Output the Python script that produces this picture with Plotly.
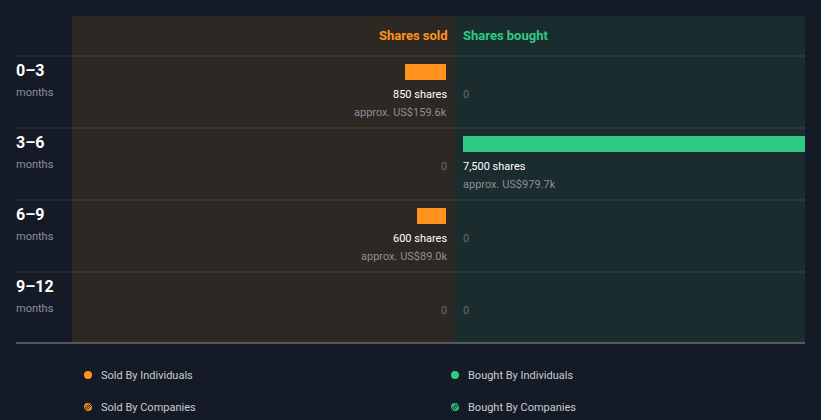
import plotly.graph_objects as go

periods = ["0–3", "3–6", "6–9", "9–12"]
period_unit = "months"
sold_shares = [850, 0, 600, 0]
sold_value = ["US$159.6k", None, "US$89.0k", None]
bought_shares = [0, 7500, 0, 0]
bought_value = [None, "US$979.7k", None, None]
legend_labels = ["Sold By Individuals", "Bought By Individuals", "Sold By Companies", "Bought By Companies"]

W, H = 821, 420
BG = "#151b26"
SOLD_BG = "#2d2823"
BOUGHT_BG = "#1a2c2e"
ORANGE = "#ff931e"
GREEN = "#2ecc82"
FONT = "Roboto"

def px(x):
    return x / W

def py(y):
    return 1 - y / H

row_h = 72.0
first_center = 72.0
y_top = -first_center / row_h
y_bot = (H - first_center) / row_h
bar_w = 16 / row_h
line1 = 22 / row_h
line2 = 40 / row_h

fig = go.Figure()
fig.add_trace(go.Bar(y=list(range(len(periods))), x=sold_shares, orientation="h",
                     marker=dict(color=ORANGE, line=dict(width=0)), width=bar_w,
                     xaxis="x", yaxis="y", hoverinfo="skip", showlegend=False))
fig.add_trace(go.Bar(y=list(range(len(periods))), x=bought_shares, orientation="h",
                     marker=dict(color=GREEN, line=dict(width=0)), width=bar_w,
                     xaxis="x2", yaxis="y", hoverinfo="skip", showlegend=False))

shares_per_px = 20.7
sold_l, sold_r = 72, 446
buy_l, buy_r = 463, 805

# text anchor corrections for annotation padding
R_TXT = 449   # right-aligned text edge target ~446-447
L_TXT = 461   # left-aligned text edge target ~463

shapes = []
shapes.append(dict(type="rect", xref="paper", yref="paper", x0=px(72), x1=px(455), y0=py(343), y1=py(16),
                   fillcolor=SOLD_BG, line=dict(width=0), layer="below"))
shapes.append(dict(type="rect", xref="paper", yref="paper", x0=px(455), x1=px(805), y0=py(343), y1=py(16),
                   fillcolor=BOUGHT_BG, line=dict(width=0), layer="below"))
for i in range(len(periods)):
    yv = i - (first_center - 56) / row_h
    shapes.append(dict(type="line", xref="paper", yref="y", x0=px(16), x1=px(805), y0=yv, y1=yv,
                       line=dict(color="rgba(255,255,255,0.12)", width=1), layer="below"))
yb = len(periods) - (first_center - 56) / row_h - 1 / row_h
shapes.append(dict(type="line", xref="paper", yref="y", x0=px(16), x1=px(805), y0=yb, y1=yb,
                   line=dict(color="#8c9098", width=1)))

ann = []
ann.append(dict(text="<b>Shares sold</b>", x=px(R_TXT + 1), y=py(35), xref="paper", yref="paper",
                xanchor="right", yanchor="middle", showarrow=False, font=dict(color=ORANGE, size=13, family=FONT)))
ann.append(dict(text="<b>Shares bought</b>", x=px(L_TXT), y=py(35), xref="paper", yref="paper",
                xanchor="left", yanchor="middle", showarrow=False, font=dict(color=GREEN, size=13, family=FONT)))

for i, p in enumerate(periods):
    ann.append(dict(text="<b>%s</b>" % p, x=px(14), y=i - 2 / row_h, xref="paper", yref="y",
                    xanchor="left", yanchor="middle", showarrow=False, font=dict(color="#ffffff", size=16, family=FONT)))
    ann.append(dict(text=period_unit, x=px(14), y=i + 20 / row_h, xref="paper", yref="y",
                    xanchor="left", yanchor="middle", showarrow=False, font=dict(color="#8b8f96", size=11, family=FONT)))
    if sold_shares[i]:
        ann.append(dict(text="%s shares" % format(sold_shares[i], ","), x=px(R_TXT), y=i + line1, xref="paper", yref="y",
                        xanchor="right", yanchor="middle", showarrow=False, font=dict(color="#ffffff", size=11, family=FONT)))
        ann.append(dict(text="approx. %s" % sold_value[i], x=px(R_TXT), y=i + line2, xref="paper", yref="y",
                        xanchor="right", yanchor="middle", showarrow=False, font=dict(color="#8b8f96", size=11, family=FONT)))
    else:
        ann.append(dict(text="0", x=px(R_TXT), y=i + line1, xref="paper", yref="y",
                        xanchor="right", yanchor="middle", showarrow=False, font=dict(color="#6b6866", size=11, family=FONT)))
    if bought_shares[i]:
        ann.append(dict(text="%s shares" % format(bought_shares[i], ","), x=px(L_TXT), y=i + line1, xref="paper", yref="y",
                        xanchor="left", yanchor="middle", showarrow=False, font=dict(color="#ffffff", size=11, family=FONT)))
        ann.append(dict(text="approx. %s" % bought_value[i], x=px(L_TXT), y=i + line2, xref="paper", yref="y",
                        xanchor="left", yanchor="middle", showarrow=False, font=dict(color="#8b8f96", size=11, family=FONT)))
    else:
        ann.append(dict(text="0", x=px(L_TXT), y=i + line1, xref="paper", yref="y",
                        xanchor="left", yanchor="middle", showarrow=False, font=dict(color="#5f6b6c", size=11, family=FONT)))

# legend
leg_pos = [(88, 375, ORANGE, False), (455, 375, GREEN, False), (88, 407, ORANGE, True), (455, 407, GREEN, True)]
for (cx, cy, col, hatched), lab in zip(leg_pos, legend_labels):
    r = 4
    shapes.append(dict(type="circle", xref="paper", yref="paper", x0=px(cx - r), x1=px(cx + r),
                       y0=py(cy + r), y1=py(cy - r), fillcolor=col, line=dict(width=0)))
    if hatched:
        for d in (-2.2, 0.0, 2.2):
            shapes.append(dict(type="line", xref="paper", yref="paper",
                               x0=px(cx - 3.2 + d), y0=py(cy + 3.2 + d * 0),
                               x1=px(cx + 3.2 + d), y1=py(cy - 3.2),
                               line=dict(color=BG, width=0.9)))
    ann.append(dict(text=lab, x=px(cx + 10.5), y=py(cy), xref="paper", yref="paper",
                    xanchor="left", yanchor="middle", showarrow=False, font=dict(color="#c9cbcf", size=11, family=FONT)))

fig.update_layout(
    width=W, height=H, margin=dict(l=0, r=0, t=0, b=0),
    paper_bgcolor=BG, plot_bgcolor="rgba(0,0,0,0)",
    barmode="overlay", bargap=0,
    xaxis=dict(domain=[px(sold_l), px(sold_r)], range=[(sold_r - sold_l) * shares_per_px, 0],
               visible=False, fixedrange=True),
    xaxis2=dict(domain=[px(buy_l), px(buy_r)], range=[0, (buy_r - buy_l) * shares_per_px],
                visible=False, fixedrange=True, anchor="y"),
    yaxis=dict(domain=[0, 1], range=[y_bot, y_top], visible=False, fixedrange=True),
    shapes=shapes, annotations=ann, showlegend=False,
)

fig.write_html("out.html", config={"displayModeBar": False})
